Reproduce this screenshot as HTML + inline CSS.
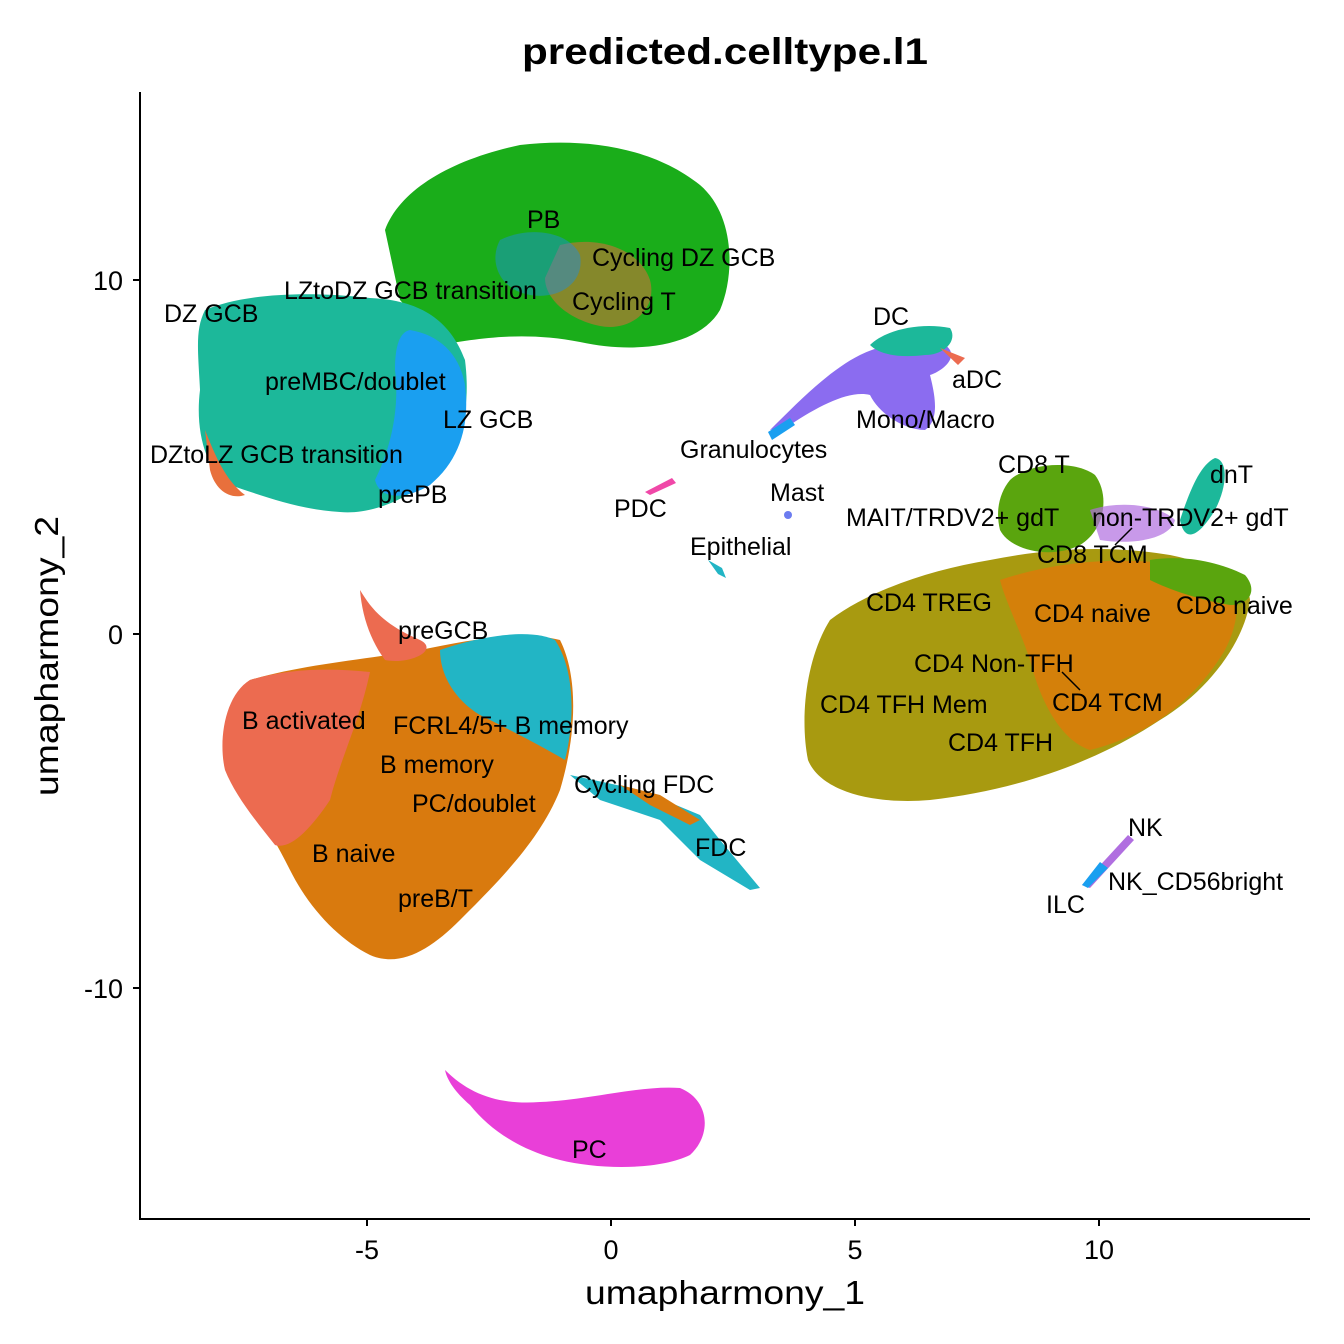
<!DOCTYPE html>
<html><head><meta charset="utf-8"><style>
html,body{margin:0;padding:0;background:#fff}
svg{display:block}
text{font-family:"Liberation Sans",Arial,sans-serif}
.l{font-size:25px;fill:#000}
</style></head><body>
<svg width="1344" height="1344" viewBox="0 0 1344 1344" xmlns="http://www.w3.org/2000/svg">
<rect width="1344" height="1344" fill="#fff"/>
<path d="M385,230 C400,190 450,160 520,145 C580,138 650,145 700,185 C735,215 735,275 720,310 C700,345 640,355 580,342 C520,330 470,340 440,345 L400,300 Z" fill="#1aad1a"/>
<path d="M560,245 C600,235 640,250 650,280 C658,310 630,332 600,326 C570,320 545,300 545,278 Z" fill="#f0643c" opacity="0.5"/>
<path d="M500,240 C530,225 570,232 580,255 C585,282 560,300 530,295 C500,290 488,262 500,240Z" fill="#1a8fe6" opacity="0.45"/>
<path d="M205,310 C240,295 300,290 370,298 C420,300 450,320 465,360 C470,400 465,440 440,470 C410,500 370,515 340,512 C300,510 260,495 230,485 C205,470 195,430 200,390 C198,350 195,330 205,310Z" fill="#1cb89a"/>
<path d="M410,330 C440,335 460,355 465,385 C470,425 460,460 430,485 C405,500 380,500 375,480 C390,450 400,410 395,370 C395,345 400,332 410,330Z" fill="#1a9ff0"/>
<path d="M205,430 C215,455 225,480 245,495 C230,500 215,490 210,470Z" fill="#e8703c"/>
<path d="M250,680 C300,665 360,660 420,650 C470,640 520,630 560,640 C580,680 575,740 560,790 C540,840 500,880 460,920 C430,950 400,968 370,955 C340,940 310,910 290,870 C270,830 250,800 235,780 C218,760 220,700 250,680Z" fill="#d97a0e"/>
<path d="M250,680 C290,668 330,668 370,672 C360,720 340,760 330,800 C310,830 290,850 275,845 C255,820 235,795 225,770 C218,740 225,695 250,680Z" fill="#ec6b50"/>
<path d="M440,650 C480,636 530,628 555,640 C575,670 575,720 565,760 C540,745 510,730 480,715 C455,700 440,675 440,650Z" fill="#22b5c5"/>
<path d="M360,590 C372,610 385,625 420,640 C440,650 410,665 385,660 C370,640 362,615 360,590Z" fill="#ec6b50"/>
<path d="M570,775 L640,790 L700,815 L720,840 L760,888 L750,890 L700,860 L660,820 L600,800 Z" fill="#22b5c5"/>
<path d="M620,785 L660,795 L700,820 L690,825 L650,805 Z" fill="#d97a0e"/>
<path d="M445,1070 C470,1095 500,1105 540,1102 C590,1100 640,1085 680,1088 C710,1100 712,1135 690,1155 C660,1170 600,1170 560,1160 C520,1150 490,1130 470,1105 C455,1092 447,1080 445,1070Z" fill="#e93fd8"/>
<path d="M830,620 C870,590 930,570 990,560 C1050,548 1110,545 1170,555 C1220,565 1250,585 1250,600 C1245,640 1210,690 1160,720 C1100,760 1020,790 930,800 C870,805 820,790 808,760 C800,720 805,660 830,620Z" fill="#a89a10"/>
<path d="M1000,580 C1060,560 1130,555 1200,568 C1240,580 1245,610 1225,650 C1195,700 1150,735 1090,750 C1060,740 1040,700 1030,660 C1020,630 1005,600 1000,580Z" fill="#d4800a"/>
<path d="M1010,480 C1030,462 1075,460 1095,475 C1110,495 1105,530 1080,545 C1050,560 1010,550 1000,530 C995,510 1000,492 1010,480Z" fill="#5aa50e"/>
<path d="M1150,560 C1180,555 1215,560 1245,575 C1258,590 1250,605 1230,605 C1200,600 1170,590 1150,580Z" fill="#5aa50e"/>
<path d="M1180,520 C1190,490 1200,465 1215,458 C1228,460 1228,485 1215,510 C1200,535 1185,545 1180,520Z" fill="#1cb89a"/>
<path d="M1090,510 C1120,500 1160,505 1175,520 C1170,540 1130,545 1100,540Z" fill="#b06ee0" opacity="0.7"/>
<path d="M770,430 C800,400 830,370 860,355 C880,345 920,335 945,345 C960,355 945,370 930,375 C935,395 940,420 925,430 C905,430 880,415 870,395 C850,390 820,405 790,425 Z" fill="#8b6cf0"/>
<path d="M870,345 C885,330 920,322 950,328 C958,340 945,355 925,355 C900,358 880,355 870,345Z" fill="#1cb89a"/>
<path d="M940,348 L965,358 L958,365 Z" fill="#ec6b50"/>
<path d="M768,432 L790,418 L795,425 L772,440Z" fill="#1a9ff0"/>
<path d="M1082,885 L1128,835 L1134,840 L1090,888Z" fill="#b06ee0"/>
<path d="M1082,885 L1100,862 L1108,868 L1088,888Z" fill="#1a9ff0"/>
<path d="M645,492 L672,478 L676,483 L650,495Z" fill="#f048a8"/>
<circle cx="788" cy="515" r="4" fill="#6c7cf0"/>
<path d="M708,560 L722,568 L726,578 L718,574 Z" fill="#22b5c5"/>
<line x1="140" y1="92" x2="140" y2="1220" stroke="#000" stroke-width="2"/>
<line x1="139" y1="1219" x2="1310" y2="1219" stroke="#000" stroke-width="2"/>
<g stroke="#000" stroke-width="2">
<line x1="367" y1="1219" x2="367" y2="1226"/><line x1="611" y1="1219" x2="611" y2="1226"/>
<line x1="855" y1="1219" x2="855" y2="1226"/><line x1="1099" y1="1219" x2="1099" y2="1226"/>
<line x1="133" y1="280" x2="140" y2="280"/><line x1="133" y1="634" x2="140" y2="634"/><line x1="133" y1="988" x2="140" y2="988"/>
</g>
<g font-size="27" fill="#000" text-anchor="middle">
<text x="367" y="1259">-5</text><text x="611" y="1259">0</text><text x="855" y="1259">5</text><text x="1099" y="1259">10</text>
</g>
<g font-size="27" fill="#000" text-anchor="end">
<text x="123" y="290">10</text><text x="123" y="644">0</text><text x="123" y="998">-10</text>
</g>
<text x="585" y="1304" font-size="33" textLength="280" lengthAdjust="spacingAndGlyphs">umapharmony_1</text>
<text transform="translate(58,796) rotate(-90)" font-size="33" textLength="280" lengthAdjust="spacingAndGlyphs">umapharmony_2</text>
<text x="522" y="64" font-size="37" font-weight="bold" textLength="406" lengthAdjust="spacingAndGlyphs">predicted.celltype.l1</text>
<g class="l">
<text x="527" y="228">PB</text>
<text x="592" y="266">Cycling DZ GCB</text>
<text x="284" y="299">LZtoDZ GCB transition</text>
<text x="572" y="310">Cycling T</text>
<text x="164" y="322">DZ GCB</text>
<text x="265" y="390">preMBC/doublet</text>
<text x="443" y="428">LZ GCB</text>
<text x="150" y="463">DZtoLZ GCB transition</text>
<text x="378" y="503">prePB</text>
<text x="873" y="325">DC</text>
<text x="952" y="388">aDC</text>
<text x="856" y="428">Mono/Macro</text>
<text x="680" y="458">Granulocytes</text>
<text x="998" y="473">CD8 T</text>
<text x="1210" y="483">dnT</text>
<text x="770" y="501">Mast</text>
<text x="614" y="517">PDC</text>
<text x="846" y="526">MAIT/TRDV2+ gdT</text>
<text x="1092" y="526">non-TRDV2+ gdT</text>
<text x="690" y="555">Epithelial</text>
<text x="1037" y="563">CD8 TCM</text>
<text x="866" y="611">CD4 TREG</text>
<text x="1176" y="614">CD8 naive</text>
<text x="1034" y="622">CD4 naive</text>
<text x="398" y="639">preGCB</text>
<text x="914" y="672">CD4 Non-TFH</text>
<text x="1052" y="711">CD4 TCM</text>
<text x="820" y="713">CD4 TFH Mem</text>
<text x="242" y="729">B activated</text>
<text x="393" y="734">FCRL4/5+ B memory</text>
<text x="948" y="751">CD4 TFH</text>
<text x="380" y="773">B memory</text>
<text x="574" y="793">Cycling FDC</text>
<text x="412" y="812">PC/doublet</text>
<text x="1128" y="836">NK</text>
<text x="695" y="856">FDC</text>
<text x="312" y="862">B naive</text>
<text x="1108" y="890">NK_CD56bright</text>
<text x="398" y="907">preB/T</text>
<text x="1046" y="913">ILC</text>
<text x="572" y="1158">PC</text>
</g>
<line x1="1115" y1="545" x2="1132" y2="528" stroke="#000" stroke-width="1.5"/>
<line x1="1062" y1="672" x2="1080" y2="690" stroke="#000" stroke-width="1.5"/>
</svg>
</body></html>
